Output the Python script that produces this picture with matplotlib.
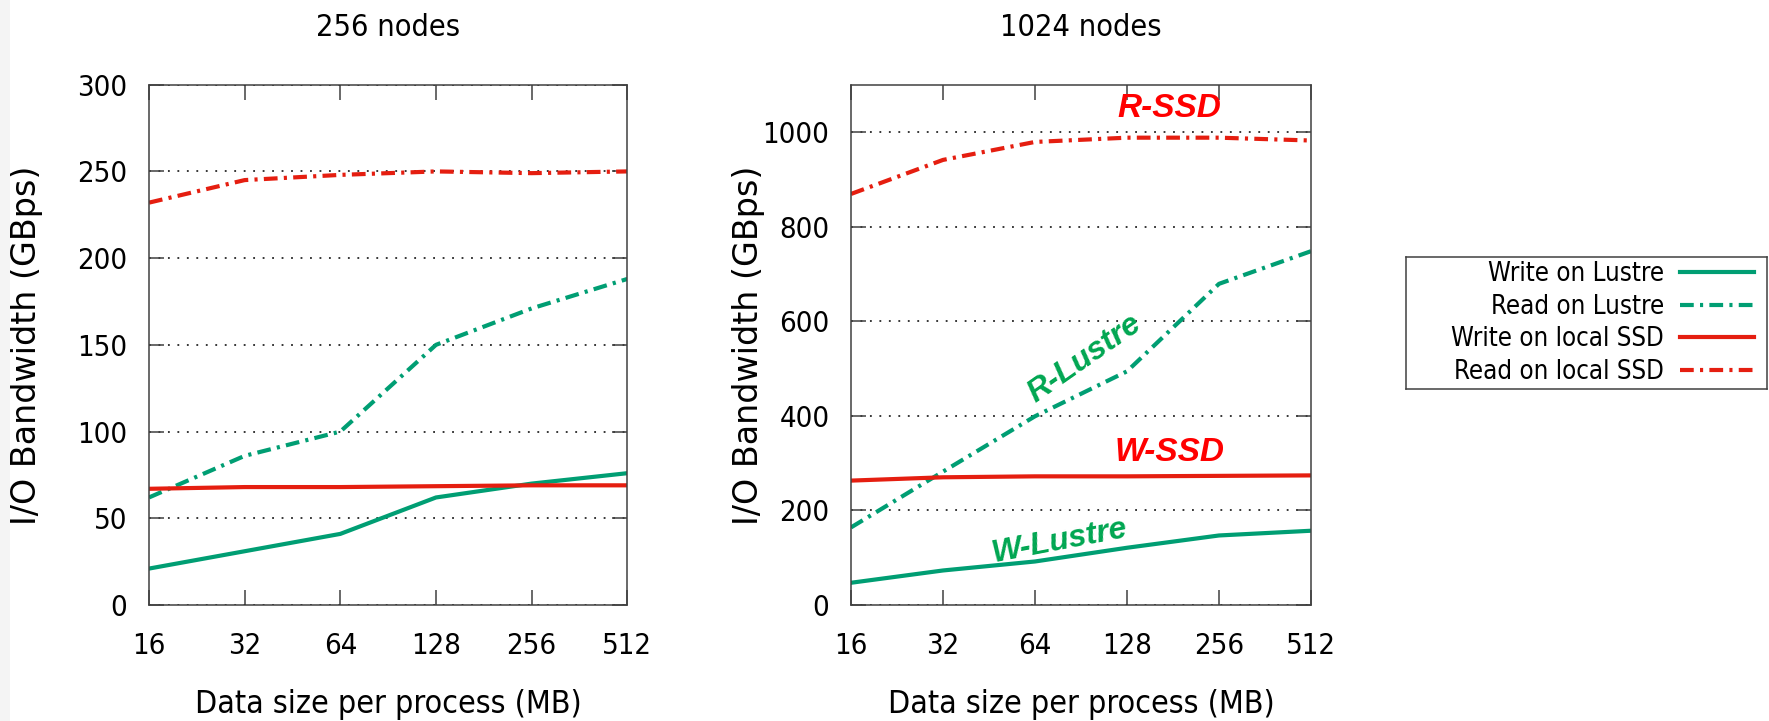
import matplotlib as mpl
mpl.use('agg')
import matplotlib.pyplot as plt
import matplotlib.font_manager as fm
from matplotlib.font_manager import FontProperties
from matplotlib.patches import Rectangle

# data size per process (MB)
sizes = [16, 32, 64, 128, 256, 512]

# 256 nodes, GBps
w_lustre_256 = [21, 31, 41, 62, 70, 76]
r_lustre_256 = [62, 86, 100, 150, 171, 188]
w_ssd_256 = [67, 68, 68, 68.5, 69, 69]
r_ssd_256 = [232, 245, 248, 250, 249, 250]

# 1024 nodes, GBps
w_lustre_1024 = [47, 73, 92, 121, 147, 157]
r_lustre_1024 = [164, 282, 399, 494, 679, 748]
w_ssd_1024 = [263, 270, 272, 272, 273, 274]
r_ssd_1024 = [869, 941, 979, 988, 988, 982]

labels = ['Write on Lustre', 'Read on Lustre', 'Write on local SSD', 'Read on local SSD']

green = '#009e73'
red = '#e51e10'
dashdot = (3.3, 1.5, 0.75, 1.5)

# gnuplot look: narrow sans
condensed = [f for f in fm.fontManager.ttflist
             if f.name == 'DejaVu Sans' and 'ondensed' in f.fname]
plt.rcParams['font.family'] = ['DejaVu Sans']
if condensed:
    plt.rcParams['font.stretch'] = 'condensed'
plt.rcParams['font.size'] = 21
ylab_font = FontProperties(family='DejaVu Sans', stretch='normal', size=24)

W, H = 1769., 721.
fig = plt.figure(figsize=(W / 100, H / 100), dpi=100, facecolor='w')
fig.patches.append(Rectangle((0, 0), 10 / W, 1, transform=fig.transFigure,
                             facecolor='#f4f4f4', edgecolor='none'))

top, bottom = 84.7, 605.
ax1 = fig.add_axes([149 / W, 1 - bottom / H, 478.3 / W, (bottom - top) / H])
ax2 = fig.add_axes([851 / W, 1 - bottom / H, 460 / W, (bottom - top) / H])


def draw(ax, wl, rl, ws, rs):
    lines = []
    lines += ax.plot(sizes, wl, color=green, lw=3.0)
    lines += ax.plot(sizes, rl, color=green, lw=3.0, dashes=dashdot)
    lines += ax.plot(sizes, ws, color=red, lw=3.0)
    lines += ax.plot(sizes, rs, color=red, lw=3.0, dashes=dashdot)
    ax.set_xscale('log', base=2)
    ax.set_xlim(16, 512)
    ax.set_xticks(sizes)
    ax.set_xticklabels([str(s) for s in sizes])
    ax.minorticks_off()
    ax.tick_params(direction='in', top=True, right=True, length=11,
                   width=1.1, color='#404040', labelsize=21)
    ax.tick_params(axis='x', pad=19.5)
    ax.tick_params(axis='y', pad=15.5)
    ax.grid(axis='y', color='black', lw=1.1, linestyle=(0, (1.2, 5)))
    for s in ax.spines.values():
        s.set_linewidth(1.1)
        s.set_color('#404040')
    ax.set_xlabel('Data size per process (MB)', fontsize=23, va='center')
    ax.set_ylabel('I/O Bandwidth (GBps)', fontproperties=ylab_font,
                  va='center')
    ax.xaxis.set_label_coords(0.5, -0.192)
    return lines


lines = draw(ax1, w_lustre_256, r_lustre_256, w_ssd_256, r_ssd_256)
ax1.set_ylim(0, 300)
ax1.set_yticks(range(0, 301, 50))
ax1.yaxis.set_label_coords(-0.257, 0.5)
ax1.text(0.5, 1.109, '256 nodes', transform=ax1.transAxes, ha='center',
         va='center', fontsize=22)

draw(ax2, w_lustre_1024, r_lustre_1024, w_ssd_1024, r_ssd_1024)
ax2.set_ylim(0, 1100)
ax2.set_yticks(range(0, 1001, 200))
ax2.yaxis.set_label_coords(-0.222, 0.5)
ax2.text(0.5, 1.109, '1024 nodes', transform=ax2.transAxes, ha='center',
         va='center', fontsize=22)

# curve labels
note = dict(family='Liberation Sans', weight='bold', style='italic',
            ha='center', va='center', rotation_mode='anchor')
ax2.text(176, 1050, 'R-SSD', color='#ff0000', fontsize=24, **note)
ax2.text(176, 322, 'W-SSD', color='#ff0000', fontsize=24, **note)
ax2.text(93, 521, 'R-Lustre', color='#00a651', rotation=35, fontsize=23, **note)
ax2.text(77, 134, 'W-Lustre', color='#00a651', rotation=10.8, fontsize=23, **note)

# legend box (gnuplot style: text right aligned, sample on the right)
lax = fig.add_axes([1406 / W, 1 - 389 / H, 361 / W, 132 / H])
lax.set_xticks([])
lax.set_yticks([])
for s in lax.spines.values():
    s.set_linewidth(1.1)
    s.set_color('#404040')
leg = lax.legend(lines, labels, loc='center right', frameon=False,
                 markerfirst=False, fontsize=18.5, handlelength=2.9,
                 handletextpad=0.6, labelspacing=0.27, borderaxespad=0.5,
                 borderpad=0)
for col in leg._legend_handle_box.get_children():
    col.align = 'right'

fig.savefig('out.png', dpi=100, facecolor='w')
